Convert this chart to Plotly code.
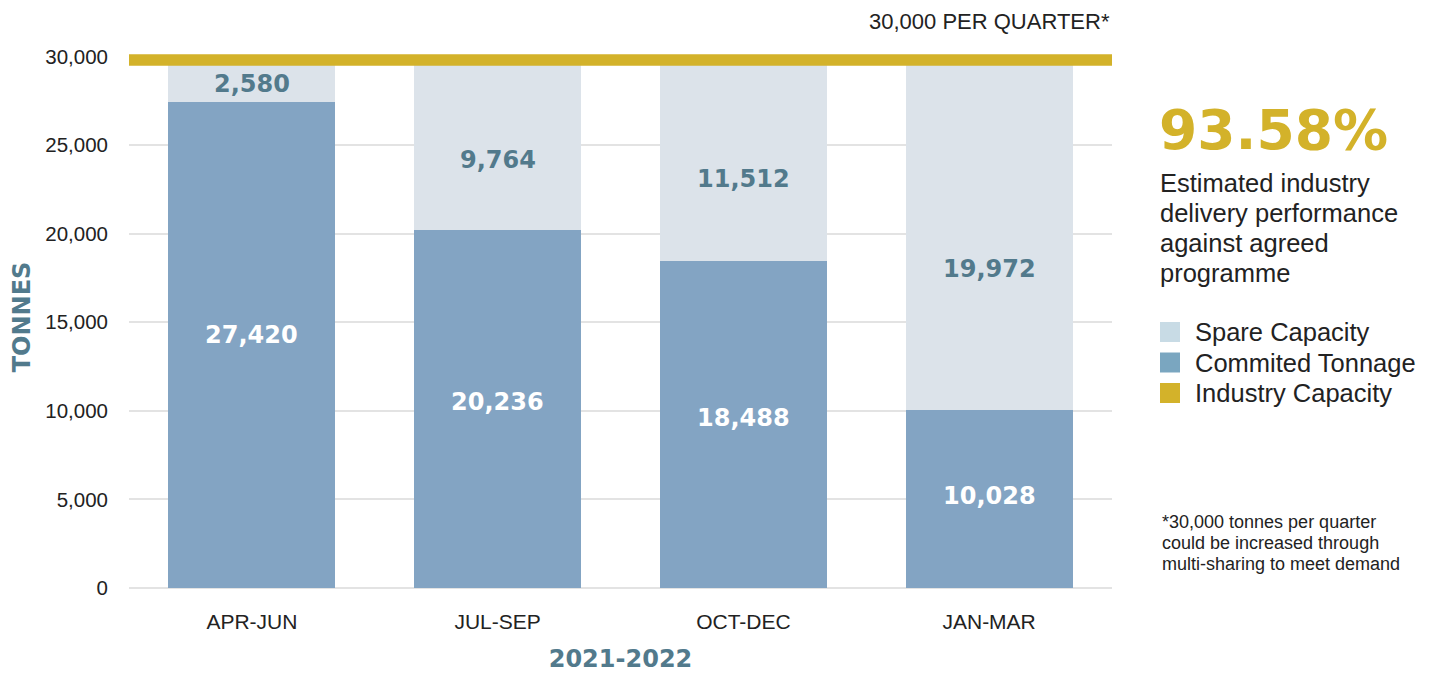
import plotly.graph_objects as go

quarters = ["APR-JUN", "JUL-SEP", "OCT-DEC", "JAN-MAR"]
committed = [27420, 20236, 18488, 10028]
spare = [2580, 9764, 11512, 19972]
capacity = 30000
performance = "93.58%"
y_ticks = [0, 5000, 10000, 15000, 20000, 25000, 30000]

FONT = "Liberation Sans, Arial, sans-serif"
BOLD = "DejaVu Sans, sans-serif"
TEAL = "#527a8c"
GOLD = "#d3b22a"

# plot area in window pixels (the page body adds an 8px offset)
OFF = 8
FIG_W, FIG_H = 1431 - OFF, 673 - OFF
PL, PR, PT, PB = 129, 1112, 46, 588


def xp(px):
    return (px - PL) / (PR - PL)


def yp(py):
    return (PB - py) / (PB - PT)


fig = go.Figure()
fig.add_trace(go.Bar(x=quarters, y=committed, name="Commited Tonnage",
                     marker=dict(color="#83a4c3", line=dict(width=0)), width=0.68,
                     showlegend=False, hoverinfo="skip"))
fig.add_trace(go.Bar(x=quarters, y=spare, name="Spare Capacity",
                     marker=dict(color="#dce3ea", line=dict(width=0)), width=0.68,
                     showlegend=False, hoverinfo="skip"))

annotations = []
for q, c, s in zip(quarters, committed, spare):
    annotations.append(dict(x=q, y=c * 0.52, xref="x", yref="y", text=f"{c:,}", showarrow=False,
                            font=dict(family=BOLD, size=24, color="white", weight="bold")))
    annotations.append(dict(x=q, y=c + s * 0.40, xref="x", yref="y", text=f"{s:,}", showarrow=False,
                            font=dict(family=BOLD, size=24, color=TEAL, weight="bold")))

annotations.append(dict(x=1, y=yp(22), xref="paper", yref="paper", xanchor="right", yanchor="middle",
                        text=f"{capacity:,} PER QUARTER*", showarrow=False,
                        font=dict(family=FONT, size=22, color="#222")))

annotations.append(dict(x=xp(1157), y=yp(130), xref="paper", yref="paper", xanchor="left", yanchor="middle",
                        text=performance, showarrow=False,
                        font=dict(family=BOLD, size=55, color=GOLD, weight="bold")))
desc = ["Estimated industry", "delivery performance", "against agreed", "programme"]
for i, line in enumerate(desc):
    annotations.append(dict(x=xp(1158), y=yp(183 + 30 * i), xref="paper", yref="paper", xanchor="left",
                            yanchor="middle", text=line, showarrow=False,
                            font=dict(family=FONT, size=25.5, color="#222")))

legend_items = [("Spare Capacity", "#c8dbe5"), ("Commited Tonnage", "#7aa6c0"), ("Industry Capacity", GOLD)]
shapes = []
for i, (name, col) in enumerate(legend_items):
    yc = 332 + 30.5 * i
    shapes.append(dict(type="rect", xref="paper", yref="paper", x0=xp(1160), x1=xp(1180),
                       y0=yp(yc + 10), y1=yp(yc - 10), fillcolor=col, line=dict(width=0)))
    annotations.append(dict(x=xp(1193), y=yp(yc), xref="paper", yref="paper", xanchor="left",
                            yanchor="middle", text=name, showarrow=False,
                            font=dict(family=FONT, size=25.5, color="#222")))

foot = ["*30,000 tonnes per quarter", "could be increased through", "multi-sharing to meet demand"]
for i, line in enumerate(foot):
    annotations.append(dict(x=xp(1160), y=yp(522 + 21 * i), xref="paper", yref="paper", xanchor="left",
                            yanchor="middle", text=line, showarrow=False,
                            font=dict(family=FONT, size=18, color="#222")))

# industry capacity band across the plot
shapes.append(dict(type="rect", xref="x domain", yref="y", x0=0, x1=1,
                   ysizemode="pixel", yanchor=capacity, y0=-9, y1=2.5,
                   fillcolor=GOLD, line=dict(width=0), layer="above"))

fig.update_layout(
    barmode="stack",
    width=FIG_W, height=FIG_H,
    margin=dict(l=PL - OFF, r=FIG_W - (PR - OFF), t=PT - OFF, b=FIG_H - (PB - OFF), autoexpand=False),
    paper_bgcolor="white", plot_bgcolor="white",
    font=dict(family=FONT, color="#222"),
    xaxis=dict(showgrid=False, showline=False, ticks="", ticklabelstandoff=19,
               tickfont=dict(size=21, color="#222"),
               title=dict(text="2021-2022", standoff=28,
                          font=dict(family=BOLD, size=24, color=TEAL, weight="bold"))),
    yaxis=dict(range=[0, 30600], tickvals=y_ticks, ticktext=[f"{v:,}" for v in y_ticks],
               showgrid=True, gridcolor="#e3e3e3", gridwidth=1.5, zeroline=True, zerolinecolor="#e3e3e3",
               zerolinewidth=1.5, ticklabelstandoff=20, tickfont=dict(size=20.5, color="#222"),
               title=dict(text="TONNES", standoff=13,
                          font=dict(family=BOLD, size=24, color=TEAL, weight="bold"))),
    annotations=annotations,
    shapes=shapes,
)

fig.write_html("out.html")
